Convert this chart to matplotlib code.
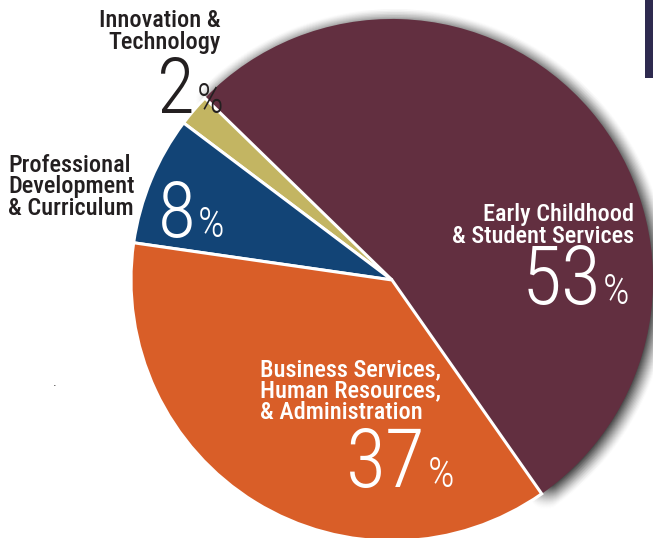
import numpy as np
import matplotlib
matplotlib.use("Agg")
import matplotlib.pyplot as plt
from matplotlib.patches import Wedge, Rectangle
from matplotlib import font_manager

# ---- data ----
categories = ["Early Childhood\n& Student Services", "Innovation &\nTechnology",
              "Professional\nDevelopment\n& Curriculum",
              "Business Services,\nHuman Resources,\n& Administration"]
values = [53, 2, 8, 37]
pct_labels = ["53", "2", "8", "37"]
colors = ["#622f40", "#c3b562", "#124476", "#d95e28"]

names = {f.name for f in font_manager.fontManager.ttflist}
prefs = ["Roboto Condensed", "PT Sans Narrow", "Archivo Narrow", "Liberation Sans Narrow",
         "Asap Condensed", "Barlow Semi Condensed", "Pragati Narrow", "Liberation Sans"]
chosen = next((p for p in prefs if p in names), "DejaVu Sans")
fam = [chosen, "DejaVu Sans"]

W, H = 653, 538
fig = plt.figure(figsize=(W / 100, H / 100), dpi=100)
ax = fig.add_axes([0, 0, 1, 1])

def Y(py):
    return H - py

R = 261
wedges, _ = ax.pie(values, colors=colors, startangle=-55, counterclock=True,
                   center=(392, Y(280)), radius=R, explode=[0.062, 0, 0, 0],
                   wedgeprops=dict(edgecolor="white", linewidth=2.2), frame=True)
ax.set_xlim(0, W)
ax.set_ylim(0, H)
ax.set_aspect("equal")
ax.axis("off")
for w in wedges:
    w.set_zorder(2)
wedges[0].set_linewidth(0)

# soft shadow around the exploded slice
m = wedges[0]
cx, cy = m.center
step = 1.5
for dx in np.arange(-14, 14.01, step):
    for dy in np.arange(-14, 14.01, step):
        if dx * dx + dy * dy <= 196:
            ax.add_patch(Wedge((cx + dx + 3.0, cy + dy - 3.0), m.r, m.theta1, m.theta2,
                               facecolor="black", alpha=0.0032, linewidth=0, zorder=1))

# dark rectangle at top right
ax.add_patch(Rectangle((645, Y(78)), 9, 78, facecolor="#2e2a4f", edgecolor="none", zorder=3))

lab_fs = 17.5
lab_w = 500
dark = "#231f20"

def big(x, y, num, col, nfs=57):
    ax.text(x, Y(y), num, ha="right", va="baseline", fontsize=nfs, fontweight=300,
            color=col, family=fam, zorder=4)
    ax.text(x + 1.5, Y(y), "%", ha="left", va="baseline", fontsize=30, fontweight=300,
            color=col, family=fam, zorder=4)

# Innovation & Technology
ax.text(221, Y(49), categories[1], ha="right", va="baseline", fontsize=lab_fs,
        fontweight=lab_w, color=dark, family=fam, linespacing=0.92, zorder=4)
big(195, 113, pct_labels[1], dark, 56)

# Professional Development & Curriculum
ax.text(8, Y(215), categories[2], ha="left", va="baseline", fontsize=lab_fs,
        fontweight=lab_w, color=dark, family=fam, linespacing=0.92, zorder=4)
big(196, 237, pct_labels[2], "white", 56)

# Early Childhood
ax.text(634, Y(243), categories[0], ha="right", va="baseline", fontsize=lab_fs,
        fontweight=lab_w, color="white", family=fam, linespacing=0.92, zorder=4)
big(601, 304, pct_labels[0], "white", 59)

# Business Services
ax.text(260, Y(419), categories[3], ha="left", va="baseline", fontsize=lab_fs,
        fontweight=lab_w, color="white", family=fam, linespacing=0.92, zorder=4)
big(426, 487, pct_labels[3], "white", 59)

# stray dot
ax.text(55, Y(386), ".", ha="center", va="baseline", fontsize=8, color=dark, zorder=4)

fig.savefig("out.png", dpi=100, facecolor="white")
